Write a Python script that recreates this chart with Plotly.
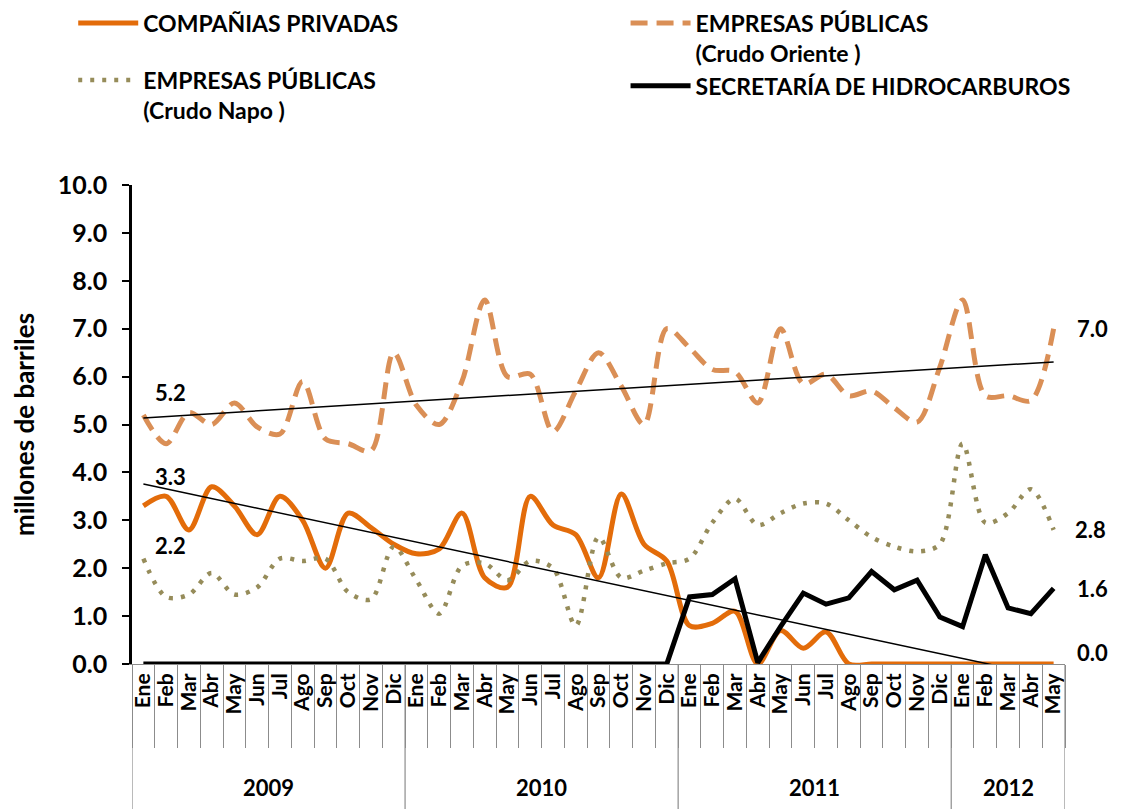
import numpy as np
import plotly.graph_objects as go

MESES = ["Ene", "Feb", "Mar", "Abr", "May", "Jun", "Jul", "Ago", "Sep", "Oct", "Nov", "Dic"]
anios = ["2009"] * 12 + ["2010"] * 12 + ["2011"] * 12 + ["2012"] * 5
meses = MESES * 3 + MESES[:5]

privadas = [3.3, 3.5, 2.8, 3.7, 3.3, 2.7, 3.5, 3.0, 2.0, 3.15, 2.85, 2.5,
            2.3, 2.4, 3.15, 1.8, 1.6, 3.5, 2.9, 2.7, 1.8, 3.55, 2.5, 2.15,
            0.8, 0.85, 1.1, 0.0, 0.7, 0.33, 0.67, 0.0, 0.0, 0.0, 0.0, 0.0,
            0.0, 0.0, 0.0, 0.0, 0.0]
oriente = [5.2, 4.6, 5.25, 5.0, 5.45, 4.95, 4.8, 5.9, 4.7, 4.6, 4.45, 6.5,
           5.4, 5.0, 5.9, 7.6, 6.0, 6.05, 4.85, 5.7, 6.5, 5.8, 5.0, 7.0,
           6.6, 6.15, 6.1, 5.45, 7.0, 5.85, 6.05, 5.6, 5.7, 5.35, 5.05, 6.2,
           7.6, 5.6, 5.6, 5.5, 7.0]
napo = [2.2, 1.4, 1.45, 1.9, 1.45, 1.6, 2.2, 2.15, 2.2, 1.5, 1.35, 2.45,
        1.75, 1.05, 2.05, 2.1, 1.75, 2.15, 2.0, 0.8, 2.65, 1.8, 1.95, 2.1,
        2.2, 2.95, 3.45, 2.9, 3.15, 3.35, 3.35, 3.0, 2.65, 2.45, 2.35, 2.5,
        4.6, 2.95, 3.15, 3.65, 2.8]
secretaria = [0.0] * 24 + [1.4, 1.45, 1.78, 0.03, 0.78, 1.48, 1.25, 1.38, 1.93, 1.55, 1.75, 0.98,
                           0.78, 2.28, 1.17, 1.05, 1.58]

# etiquetas del primer y ultimo punto
etiquetas = {
    "privadas": ["3.3", "0.0"],
    "oriente": ["5.2", "7.0"],
    "napo": ["2.2", "2.8"],
    "secretaria": ["", "1.6"],
}

FONT = "Lato"
GRIS = "#8c8c8c"
cats = [f"{m} {a}" for m, a in zip(meses, anios)]
ext = [cats[0], cats[-1]]

fig = go.Figure()

series = [
    ("COMPAÑIAS PRIVADAS", privadas,
     dict(color="#E36C0A", width=5, shape="spline", smoothing=0.9), "privadas", "legend"),
    ("EMPRESAS PÚBLICAS<br>(Crudo Oriente )", oriente,
     dict(color="#DA8F56", width=5, dash="17px,9px", shape="spline", smoothing=0.9), "oriente", "legend2"),
    ("EMPRESAS PÚBLICAS<br>(Crudo Napo )", napo,
     dict(color="#968C5A", width=4.5, dash="4px,8px", shape="spline", smoothing=0.9), "napo", "legend"),
    ("SECRETARÍA DE HIDROCARBUROS", secretaria,
     dict(color="#000000", width=5), "secretaria", "legend2"),
]

for name, vals, line, key, leg in series:
    fig.add_trace(go.Scatter(x=cats, y=vals, name=name, mode="lines", line=line,
                             legend=leg, legendgroup=key))

# lineas de tendencia (regresion lineal)
idx = np.arange(len(cats))
for vals in (oriente, privadas):
    m, b = np.polyfit(idx, vals, 1)
    fig.add_trace(go.Scatter(x=ext, y=[b, b + m * idx[-1]], mode="lines",
                             line=dict(color="black", width=1.5), showlegend=False,
                             hoverinfo="skip"))

# desplazamiento (px) de cada etiqueta respecto a su punto
desplaz = {
    "privadas": [(27, 29), (39, 12)],
    "oriente": [(27, 22), (39, 0)],
    "napo": [(27, 13), (37, 0)],
    "secretaria": [(0, 0), (39, 0)],
}
for name, vals, line, key, leg in series:
    for j, (c, v) in enumerate(zip(ext, [vals[0], vals[-1]])):
        if not etiquetas[key][j]:
            continue
        dx, dy = desplaz[key][j]
        fig.add_annotation(x=c, y=v, text=etiquetas[key][j], showarrow=False,
                           xshift=dx, yshift=dy, xanchor="center", yanchor="middle",
                           font=dict(family=FONT, size=22, color="black", weight="bold"))

# separadores y etiquetas de anios
years = sorted(set(anios))
bordes = [-0.5] + [i - 0.5 for i in range(1, len(anios)) if anios[i] != anios[i - 1]] + [len(anios) - 0.5]
for xb in bordes:
    fig.add_shape(type="line", xref="x", yref="paper", x0=xb, x1=xb, y0=0, y1=-0.31,
                  line=dict(color=GRIS, width=1.2))
for y in years:
    pos = [i for i, a in enumerate(anios) if a == y]
    fig.add_annotation(x=float(np.mean(pos)), y=-0.257, xref="x", yref="paper",
                       text=y, showarrow=False, yanchor="middle",
                       font=dict(family=FONT, size=22, weight="bold"))

leg_font = dict(family=FONT, size=23, weight="bold")
fig.update_layout(
    width=1125, height=809,
    # la pagina tiene 8px de margen en el body
    margin=dict(l=124, r=68, t=177, b=153, autoexpand=False),
    plot_bgcolor="white", paper_bgcolor="white",
    font=dict(family=FONT, color="black", weight="bold"),
    legend=dict(x=-0.063, xanchor="left", y=1.383, yanchor="top",
                valign="top", font=leg_font, itemwidth=60, tracegroupgap=24,
                bgcolor="rgba(0,0,0,0)"),
    legend2=dict(x=0.529, xanchor="left", y=1.383, yanchor="top",
                 valign="top", font=leg_font, itemwidth=60, tracegroupgap=0,
                 bgcolor="rgba(0,0,0,0)"),
    xaxis=dict(type="category", range=[-0.5, len(cats) - 0.5], tickangle=-90, showgrid=False,
               tickmode="array", tickvals=cats, ticktext=meses, automargin=False,
               tickfont=dict(family=FONT, size=21, weight="bold"),
               showline=True, linecolor=GRIS, linewidth=1,
               ticks="outside", tickson="boundaries", ticklen=83, tickcolor=GRIS, tickwidth=1.2),
    yaxis=dict(range=[0, 10], dtick=1, tickformat=".1f", showgrid=False, zeroline=False,
               showline=True, linecolor="black", linewidth=2.5, automargin=False,
               ticks="outside", ticklen=7, tickwidth=2, tickcolor="black",
               ticklabelstandoff=10,
               tickfont=dict(family=FONT, size=25, weight="bold"),
               title=dict(text="millones de barriles", standoff=30,
                          font=dict(family=FONT, size=26, weight="bold"))),
)

fig.write_html("out.html")
